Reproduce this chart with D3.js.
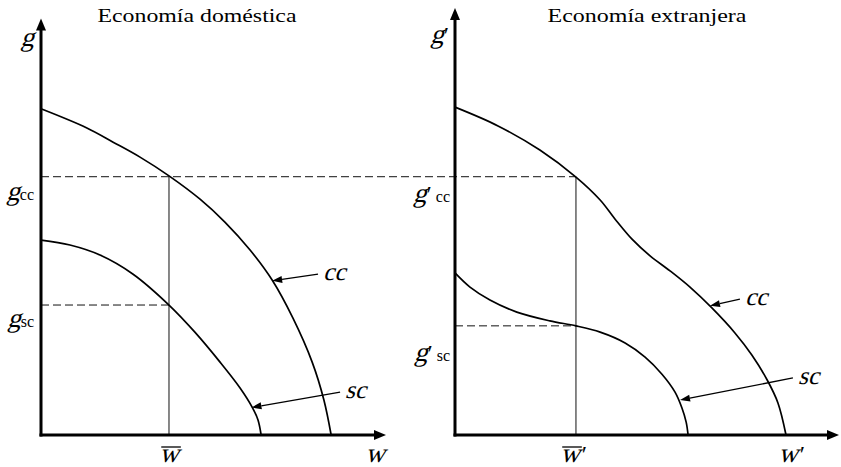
<!DOCTYPE html>
<html>
<head>
<meta charset="utf-8">
<script src="https://cdn.jsdelivr.net/npm/d3@7"></script>
<style>
  body { margin: 0; background: #fff; }
  svg { display: block; }
</style>
</head>
<body>
<svg id="chart" width="841" height="467"></svg>
<script>
// panel titles
const titles = ["Economía doméstica", "Economía extranjera"];

// curves (x = wage, y = growth), in axis units 0..10
const ccDomestic = [[0, 7.83], [1.33, 7.37], [2.09, 7.03], [2.87, 6.67], [3.71, 6.22], [4.61, 5.66],
  [5.33, 5.11], [6.06, 4.44], [6.70, 3.72], [7.30, 2.81], [7.86, 1.75], [8.20, 0.84], [8.41, 0]];
const scDomestic = [[0, 4.68], [0.84, 4.56], [1.71, 4.32], [2.67, 3.86], [3.71, 3.12], [4.46, 2.47],
  [5.19, 1.75], [5.77, 1.13], [6.12, 0.67], [6.29, 0.36], [6.38, 0]];
const ccForeign = [[0, 7.87], [1.12, 7.42], [2.21, 6.84], [3.15, 6.19], [3.78, 5.64], [4.17, 5.18],
  [4.61, 4.70], [5.08, 4.30], [5.60, 3.94], [6.12, 3.55], [6.69, 3.05], [7.29, 2.45],
  [7.73, 1.92], [8.13, 1.32], [8.41, 0.77], [8.62, 0]];
const scForeign = [[0, 3.89], [0.39, 3.55], [0.91, 3.24], [1.61, 2.95], [2.47, 2.74], [3.15, 2.62],
  [3.78, 2.47], [4.43, 2.21], [4.95, 1.87], [5.39, 1.46], [5.73, 1.03], [5.91, 0.65],
  [6.02, 0.31], [6.07, 0]];

// reference levels
const wBar = [3.71, 3.15];      // domestic, foreign
const gCC = 6.2;                // shared by both panels
const gSC = [3.12, 2.62];

// arrow annotations: [fromX, fromY, tipX, tipY, label]
const notesDomestic = [[8.03, 3.86, 6.70, 3.70, "cc"], [8.67, 1.03, 6.10, 0.66, "sc"]];
const notesForeign = [[7.42, 3.26, 6.64, 3.10, "cc"], [8.80, 1.37, 5.86, 0.84, "sc"]];

const svg = d3.select("#chart");
const serif = "Liberation Serif, Times New Roman, serif";

const xL = d3.scaleLinear().domain([0, 10]).range([41, 386]);
const xR = d3.scaleLinear().domain([0, 10]).range([455, 839]);
const y = d3.scaleLinear().domain([0, 10.25]).range([435, 8]);

// slanted serif text (the serif italic face is not available)
function slanted(x, yb, s, size, anchor) {
  return svg.append("text")
    .attr("transform", `translate(${x},${yb}) skewX(-16)`)
    .attr("text-anchor", anchor || "start")
    .attr("font-family", serif).attr("font-size", size)
    .text(s);
}

function arrowHead(g, x1, y1, x2, y2, len, half) {
  const a = Math.atan2(y2 - y1, x2 - x1);
  const bx = x2 - len * Math.cos(a), by = y2 - len * Math.sin(a);
  const px = -Math.sin(a) * half, py = Math.cos(a) * half;
  g.append("path")
    .attr("d", `M${x2},${y2}L${bx + px},${by + py}L${bx - px},${by - py}Z`)
    .attr("fill", "#000");
  return [bx, by];
}

function axis(x, yTop) {
  const g = svg.append("g");
  const x0 = x(0), y0 = y(0), xt = x(10), yt = y(yTop);
  g.append("line").attr("x1", x0).attr("y1", y0 + 1.5).attr("x2", x0).attr("y2", yt + 8)
    .attr("stroke", "#000").attr("stroke-width", 3);
  g.append("line").attr("x1", x0 - 1.5).attr("y1", y0).attr("x2", xt - 8).attr("y2", y0)
    .attr("stroke", "#000").attr("stroke-width", 3);
  arrowHead(g, x0, y0, x0, yt, 12, 5);
  arrowHead(g, x0, y0, xt, y0, 12, 5);
}

const line = x => d3.line()
  .x(d => x(d[0]))
  .y(d => y(d[1]))
  .curve(d3.curveCatmullRom.alpha(0.5));

function curve(x, data) {
  svg.append("path").datum(data)
    .attr("d", line(x))
    .attr("fill", "none")
    .attr("stroke", "#000")
    .attr("stroke-width", 1.7);
}

function notes(x, list) {
  list.forEach(n => {
    const g = svg.append("g");
    const x1 = x(n[0]), y1 = y(n[1]), x2 = x(n[2]), y2 = y(n[3]);
    const [bx, by] = arrowHead(g, x1, y1, x2, y2, 10, 3.5);
    g.append("line").attr("x1", x1).attr("y1", y1).attr("x2", bx).attr("y2", by)
      .attr("stroke", "#000").attr("stroke-width", 1.3);
    slanted(x1 + 5, y1 + 6, n[4], 25);
  });
}

function guides(x, w, gs) {
  svg.append("line").attr("x1", x(w)).attr("x2", x(w)).attr("y1", y(gCC)).attr("y2", y(0))
    .attr("stroke", "#111").attr("stroke-width", 1);
  svg.append("line").attr("x1", x(0)).attr("x2", x(w)).attr("y1", y(gs)).attr("y2", y(gs))
    .attr("stroke", "#111").attr("stroke-width", 1).attr("stroke-dasharray", "8,4");
}

// g label, right-aligned at xEnd: slanted g, optional prime, upright subscript
function gLabel(xEnd, yBase, prime, sub) {
  let x = xEnd;
  if (sub) {
    const t = svg.append("text").attr("x", x).attr("y", yBase).attr("text-anchor", "end")
      .attr("font-family", serif).attr("font-size", 16).text(sub);
    x -= t.node().getComputedTextLength() + (prime ? 4 : 0);
  }
  if (prime) {
    const t = svg.append("text").attr("x", x).attr("y", yBase).attr("text-anchor", "end")
      .attr("font-family", serif).attr("font-size", 24).text("\u2032");
    x -= t.node().getComputedTextLength();
  }
  slanted(x, yBase, "g", 27, "end");
}

// w label with optional overbar and prime
function wLabel(xc, yBase, bar, prime) {
  const t = slanted(xc, yBase, "w", 27, "middle");
  const b = t.node().getBBox();
  const x0 = xc + b.x, x1 = xc + b.x + b.width;
  if (bar) {
    svg.append("line").attr("x1", x0 + 2).attr("x2", x1 + 2)
      .attr("y1", yBase - 15).attr("y2", yBase - 15)
      .attr("stroke", "#000").attr("stroke-width", 1.3);
  }
  if (prime) {
    svg.append("text").attr("x", x1 + 2).attr("y", yBase)
      .attr("font-family", serif).attr("font-size", 24).text("\u2032");
  }
}

svg.append("rect").attr("width", 841).attr("height", 467).attr("fill", "#fff");

// titles
[[197, titles[0]], [647, titles[1]]].forEach(([cx, s]) => {
  svg.append("text").attr("x", cx).attr("y", 22).attr("text-anchor", "middle")
    .attr("font-family", serif).attr("font-size", 19)
    .attr("textLength", 199).attr("lengthAdjust", "spacingAndGlyphs")
    .text(s);
});

// shared dashed line at g_cc across both panels
svg.append("line").attr("x1", xL(0)).attr("x2", xR(wBar[1])).attr("y1", y(gCC)).attr("y2", y(gCC))
  .attr("stroke", "#111").attr("stroke-width", 1).attr("stroke-dasharray", "8,4");

guides(xL, wBar[0], gSC[0]);
guides(xR, wBar[1], gSC[1]);

curve(xL, ccDomestic);
curve(xL, scDomestic);
curve(xR, ccForeign);
curve(xR, scForeign);

axis(xL, 10);
axis(xR, 10.25);

notes(xL, notesDomestic);
notes(xR, notesForeign);

// axis labels
gLabel(34, 46, false, null);
gLabel(34, 200, false, "cc");
gLabel(34, 327, false, "sc");
gLabel(449, 43, true, null);
gLabel(450, 202, true, "cc");
gLabel(450, 361, true, "sc");

wLabel(xL(wBar[0]), 462, true, false);
wLabel(375, 462, false, false);
wLabel(xR(wBar[1]) - 6, 462, true, true);
wLabel(788, 462, false, true);
</script>
</body>
</html>
